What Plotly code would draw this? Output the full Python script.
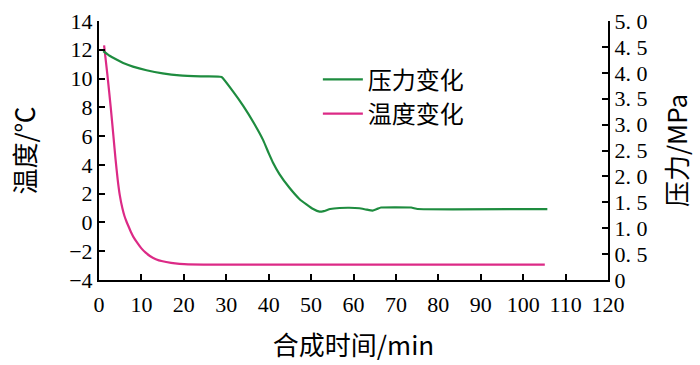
import plotly.graph_objects as go

# Pressure (MPa) vs time (min)
p_time = [1.0, 2.5, 4.0, 5.7, 8.0, 11.2, 15.0, 19.0, 24.0, 28.9, 31.5, 34.0, 36.5, 38.7, 40.0, 41.0, 42.5, 44.9, 47.3, 48.9, 50.5, 52.0, 53.0, 54.5, 56.7, 59.0, 61.4, 63.0, 64.5, 65.5, 66.5, 73.6, 75.1, 105.7]
p_val = [4.42, 4.33, 4.26, 4.19, 4.12, 4.05, 3.99, 3.95, 3.93, 3.92, 3.65, 3.36, 3.03, 2.70, 2.45, 2.27, 2.05, 1.78, 1.56, 1.46, 1.37, 1.32, 1.33, 1.37, 1.39, 1.395, 1.385, 1.36, 1.34, 1.37, 1.40, 1.40, 1.37, 1.37]

# Temperature (°C) vs time (min)
t_time = [1.2, 2.0, 2.8, 3.4, 3.9, 4.4, 4.9, 5.5, 6.0, 6.5, 7.0, 7.5, 8.1, 9.0, 10.0, 11.0, 12.0, 13.4, 15.0, 17.0, 19.0, 21.0, 25.0, 105.1]
t_val = [12.3, 10.2, 7.9, 6.0, 4.4, 3.0, 1.9, 1.0, 0.45, 0.05, -0.3, -0.65, -1.0, -1.4, -1.8, -2.1, -2.33, -2.55, -2.7, -2.81, -2.88, -2.92, -2.93, -2.93]

x_ticks = list(range(0, 121, 10))
y_ticks = list(range(-4, 15, 2))
y2_ticks = [0, 0.5, 1.0, 1.5, 2.0, 2.5, 3.0, 3.5, 4.0, 4.5, 5.0]
y2_text = ["0", "0. 5", "1. 0", "1. 5", "2. 0", "2. 5", "3. 0", "3. 5", "4. 0", "4. 5", "5. 0"]

GREEN = "#1e8c3f"
PINK = "#dc2a86"
SERIF = "Liberation Serif, Times New Roman, DejaVu Serif, serif"
NUM_FONT = dict(family=SERIF, size=22, color="black")
CJK = "Noto Sans CJK SC"

fig = go.Figure()
fig.add_trace(go.Scatter(x=p_time, y=p_val, name="压力变化", mode="lines",
                         line=dict(color=GREEN, width=2.2, shape="spline", smoothing=0.3),
                         yaxis="y2"))
fig.add_trace(go.Scatter(x=t_time, y=t_val, name="温度变化", mode="lines",
                         line=dict(color=PINK, width=2.2, shape="spline", smoothing=0.5)))

axis_common = dict(showline=True, linecolor="black", linewidth=2, ticks="inside",
                   ticklen=6, tickwidth=2, tickcolor="black", showgrid=False,
                   zeroline=False, tickfont=NUM_FONT, ticklabeloverflow="allow")

fig.update_layout(
    width=700, height=365,
    font=dict(family=SERIF, size=22, color="black"),
    margin=dict(l=99, r=92, t=9, b=83),
    plot_bgcolor="white", paper_bgcolor="white",
    xaxis=dict(range=[0, 120], tickvals=x_ticks, ticklabelstandoff=4, **axis_common,
               title=dict(text="合成时间/min", font=dict(family=CJK, size=26, color="black"), standoff=20)),
    yaxis=dict(range=[-4, 14], tickvals=y_ticks, **axis_common,
               title=dict(text="温度/℃", font=dict(family=CJK, size=26, color="black"), standoff=26)),
    yaxis2=dict(range=[0, 5], tickvals=y2_ticks, ticktext=y2_text, overlaying="y", side="right",
                **axis_common,
                title=dict(text="压力/MPa", font=dict(family=CJK, size=26, color="black"), standoff=22)),
    legend=dict(x=0.43, y=0.86, xanchor="left", yanchor="top", bgcolor="rgba(0,0,0,0)",
                font=dict(family=CJK, size=24, color="black"), itemwidth=40,
                tracegroupgap=0),
    showlegend=True,
)

fig.write_html("out.html")
